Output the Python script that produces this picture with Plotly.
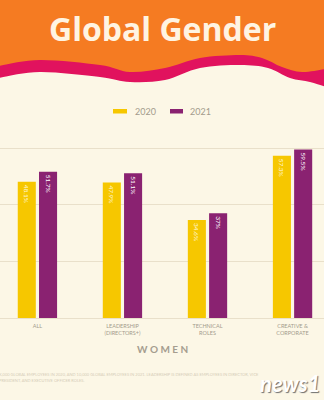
import plotly.graph_objects as go

# ---- data ----
categories = ["ALL", "LEADERSHIP<br>(DIRECTORS+)", "TECHNICAL<br>ROLES", "CREATIVE &<br>CORPORATE"]
years = ["2020", "2021"]
values_2020 = [48.1, 47.9, 34.6, 57.3]
values_2021 = [51.7, 51.1, 37.0, 59.5]
y_ticks = [0, 20, 40, 60]

# ---- style ----
W, H = 324, 400
PLOT_TOP, PLOT_BOTTOM = 147, 318
ORANGE = "#F57B22"
PINK = "#E1125E"
CREAM = "#FCF7E6"
YELLOW = "#F6C700"
PURPLE = "#8A2271"
GRID = "#E9E0CA"
GRAY = "#A39B8C"
FONT = "Lato, 'Open Sans', sans-serif"
TITLE_FONT = "'Open Sans', Lato, sans-serif"


def PX(x):
    return x / W


def PY(y):
    return (PLOT_BOTTOM - y) / (PLOT_BOTTOM - PLOT_TOP)


def smooth_path(points, close_bottom):
    # Catmull-Rom -> cubic bezier, in paper coordinates
    pts = [(PX(x), PY(y)) for x, y in points]
    d = f"M {pts[0][0]},{pts[0][1]}"
    for i in range(len(pts) - 1):
        p0 = pts[i - 1] if i > 0 else pts[i]
        p1 = pts[i]
        p2 = pts[i + 1]
        p3 = pts[i + 2] if i + 2 < len(pts) else pts[i + 1]
        c1 = (p1[0] + (p2[0] - p0[0]) / 6, p1[1] + (p2[1] - p0[1]) / 6)
        c2 = (p2[0] - (p3[0] - p1[0]) / 6, p2[1] - (p3[1] - p1[1]) / 6)
        d += f" C {c1[0]},{c1[1]} {c2[0]},{c2[1]} {p2[0]},{p2[1]}"
    yb = PY(close_bottom)
    d += f" L {PX(W + 2)},{pts[-1][1]} L {PX(W + 2)},{yb} L {PX(-2)},{yb} L {PX(-2)},{pts[0][1]} Z"
    return d


pink_edge = [(-2, 66), (40, 60), (100, 65), (130, 72), (165, 68), (200, 58), (240, 55),
             (262, 58), (282, 67), (302, 72), (326, 69)]
cream_edge = [(-2, 78), (40, 72), (100, 77), (130, 82), (165, 80), (200, 68), (240, 65),
              (268, 68), (290, 78), (310, 82), (326, 87)]

fig = go.Figure()
for name, vals, col, tcol in [(years[0], values_2020, YELLOW, "#FFF6D6"),
                              (years[1], values_2021, PURPLE, "#FFFFFF")]:
    fig.add_trace(go.Bar(
        name=name, x=categories, y=vals, marker=dict(color=col, line=dict(width=0)),
        text=[f"{v:g}%" for v in vals], textposition="inside", insidetextanchor="end",
        textangle=90, textfont=dict(size=6.5, color=tcol, family=FONT),
        hoverinfo="skip", showlegend=False,
    ))

shapes = [
    dict(type="rect", xref="paper", yref="paper", x0=PX(-2), x1=PX(W + 2), y0=PY(-2), y1=PY(95),
         fillcolor=ORANGE, line=dict(width=0), layer="below"),
    dict(type="path", xref="paper", yref="paper", path=smooth_path(pink_edge, 100),
         fillcolor=PINK, line=dict(width=0), layer="below"),
    dict(type="path", xref="paper", yref="paper", path=smooth_path(cream_edge, 110),
         fillcolor=CREAM, line=dict(width=0), layer="below"),
    # manual legend swatches
    dict(type="rect", xref="paper", yref="paper", x0=PX(113), x1=PX(127), y0=PY(113.5), y1=PY(109),
         fillcolor=YELLOW, line=dict(width=0)),
    dict(type="rect", xref="paper", yref="paper", x0=PX(170), x1=PX(183), y0=PY(113.5), y1=PY(109),
         fillcolor=PURPLE, line=dict(width=0)),
]

annotations = [
    dict(text="<b>Global Gender</b>", x=PX(162), y=PY(29), xref="paper", yref="paper",
         showarrow=False, font=dict(size=32, color="#FFF4E2", family=TITLE_FONT),
         xanchor="center", yanchor="middle"),
    dict(text=years[0], x=PX(133), y=PY(111.5), xref="paper", yref="paper", showarrow=False,
         font=dict(size=9, color=GRAY, family=FONT), xanchor="left", yanchor="middle"),
    dict(text=years[1], x=PX(188), y=PY(111.5), xref="paper", yref="paper", showarrow=False,
         font=dict(size=9, color=GRAY, family=FONT), xanchor="left", yanchor="middle"),
    dict(text="<b>W O M E N</b>", x=PX(162), y=PY(348.5), xref="paper", yref="paper", showarrow=False,
         font=dict(size=10, color="#A59D8F", family=FONT), xanchor="center", yanchor="middle"),
    dict(text="K,000 GLOBAL EMPLOYEES IN 2020, AND 10,000 GLOBAL EMPLOYEES IN 2021. LEADERSHIP IS DEFINED AS EMPLOYEES IN DIRECTOR, VICE",
         x=PX(-3), y=PY(374), xref="paper", yref="paper", showarrow=False,
         font=dict(size=4, color="#D6CDB8", family=FONT), xanchor="left", yanchor="middle"),
    dict(text="PRESIDENT, AND EXECUTIVE OFFICER ROLES.",
         x=PX(-3), y=PY(380), xref="paper", yref="paper", showarrow=False,
         font=dict(size=4, color="#D6CDB8", family=FONT), xanchor="left", yanchor="middle"),
    dict(text="<b><i>news1</i></b>", x=PX(258), y=PY(383), xref="paper", yref="paper", showarrow=False,
         font=dict(size=22, color="#FFFFFF", family=FONT, shadow="1px 1px 1px #6E6E6E"),
         xanchor="left", yanchor="middle"),
]

fig.update_layout(
    width=W, height=H, margin=dict(l=0, r=0, t=PLOT_TOP, b=H - PLOT_BOTTOM),
    paper_bgcolor=CREAM, plot_bgcolor="rgba(0,0,0,0)",
    barmode="group", bargap=0.5, bargroupgap=0.15,
    showlegend=False, shapes=shapes, annotations=annotations,
    uniformtext=dict(minsize=6, mode="show"),
    xaxis=dict(range=[-0.44, 3.37], showgrid=False, zeroline=False, showline=False, ticks="",
               ticklabelstandoff=3,
               tickfont=dict(size=5.5, color=GRAY, family=FONT), fixedrange=True),
    yaxis=dict(range=[0, 60.4], tickvals=y_ticks, showticklabels=False, showgrid=True,
               gridcolor=GRID, gridwidth=1, zeroline=True, zerolinecolor=GRID, zerolinewidth=1,
               showline=False, fixedrange=True),
)

fig.write_html("out.html")
